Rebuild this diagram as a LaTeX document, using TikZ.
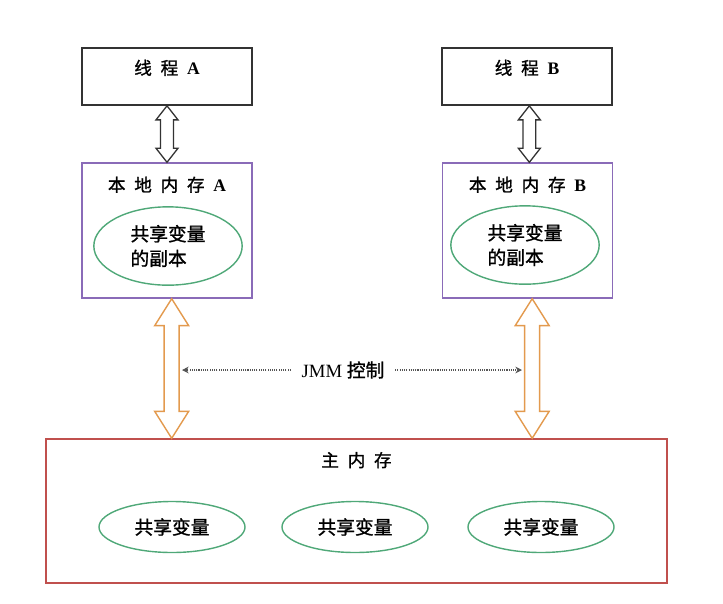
\documentclass[tikz,border=0pt]{standalone}
\usepackage{fontspec}
\setmainfont{Liberation Serif}
\newfontfamily\cjk[FakeBold=1.2]{Noto Sans CJK SC}
\usetikzlibrary{positioning,calc,shapes.geometric,arrows.meta}
\definecolor{threadline}{HTML}{333333}
\definecolor{localline}{HTML}{8A6BB8}
\definecolor{varline}{HTML}{4FA878}
\definecolor{mainline}{HTML}{C0504D}
\definecolor{busline}{HTML}{E39A4E}
\definecolor{jmmline}{HTML}{555555}
\tikzset{
  % --- boxes ---
  thread/.style={draw=threadline, line width=1.4pt, minimum width=5.1cm, minimum height=1.71cm,
                 text depth=16pt, font=\cjk\fontsize{15}{18}\selectfont},
  localmem/.style={draw=localline, line width=1.2pt, minimum width=5.1cm, minimum height=4.05cm},
  mainmem/.style={draw=mainline, line width=1.2pt, minimum width=18.63cm, minimum height=4.32cm},
  boxtitle/.style={font=\cjk\fontsize{15}{18}\selectfont, inner sep=3pt},
  % --- shared variables ---
  var/.style={ellipse, draw=varline, line width=1.2pt, inner sep=0pt, align=left,
              font=\cjk\fontsize{16}{21}\selectfont},
  copyvar/.style={var, minimum width=4.45cm, minimum height=2.35cm},
  mainvar/.style={var, minimum width=4.38cm, minimum height=1.53cm},
  % --- hollow block arrows ---
  threadbus/.style={draw=threadline, fill=white, line width=1.1pt, line join=miter},
  membus/.style={draw=busline, fill=white, line width=1.2pt, line join=miter},
  % --- JMM control ---
  jmmflow/.style={densely dotted, draw=jmmline, line width=0.9pt,
                  -{Stealth[length=2mm,width=2mm]}},
  jmmtext/.style={font=\fontsize{16}{18}\selectfont, inner sep=9pt},
}
\newcommand{\lat}[1]{{\normalfont\bfseries #1}}
\newcommand{\gap}{\hspace{0.5em}}
% style, from, to, head half width, head length, shaft half width
\newcommand{\fatarrow}[6]{%
  \draw[#1] let \p1=(#2), \p2=(#3) in
    (\x1,\y1) -- ({\x1+#4},{\y1-#5}) -- ({\x1+#6},{\y1-#5})
    -- ({\x1+#6},{\y2+#5}) -- ({\x1+#4},{\y2+#5}) -- (\x1,\y2)
    -- ({\x1-#4},{\y2+#5}) -- ({\x1-#6},{\y2+#5})
    -- ({\x1-#6},{\y1-#5}) -- ({\x1-#4},{\y1-#5}) -- cycle;}
\begin{document}
\begin{tikzpicture}[x=0.03cm, y=-0.03cm]
  \useasboundingbox (0,0) rectangle (723,603);

  % --- threads ---
  \node[thread] (thA) at (167,76.5) {线\gap 程\gap\lat{A}};
  \node[thread] (thB) at (527,76.5) {线\gap 程\gap\lat{B}};

  % --- local memory ---
  \node[localmem] (locA) at (167,230.5) {};
  \node[localmem] (locB) at (527.5,230.5) {};
  \node[boxtitle, below=0.32cm of locA.north] (locAtitle) {本\gap 地\gap 内\gap 存\gap\lat{A}};
  \node[boxtitle, below=0.32cm of locB.north] (locBtitle) {本\gap 地\gap 内\gap 存\gap\lat{B}};
  \node[copyvar] (copyA) at (168,246) {共享变量\\的副本};
  \node[copyvar] (copyB) at (525,245) {共享变量\\的副本};

  % --- main memory ---
  \node[mainmem] (mainmem) at (356.5,511) {};
  \node[boxtitle, below=0.3cm of mainmem.north] (maintitle) {主\gap 内\gap 存};
  \node[mainvar] (var1) at (172,527) {共享变量};
  \node[mainvar] (var2) at (355,527) {共享变量};
  \node[mainvar] (var3) at (541,527) {共享变量};

  % --- thread <-> local memory ---
  \fatarrow{threadbus}{thA.south}{locA.north}{9.4pt}{12pt}{5.5pt}
  \fatarrow{threadbus}{[xshift=2pt]thB.south}{locB.north}{9.4pt}{12pt}{5.5pt}

  % --- local memory <-> main memory ---
  \fatarrow{membus}{[xshift=4pt]locA.south}{mainmem.north}{14.5pt}{23pt}{6.4pt}
  \fatarrow{membus}{[xshift=4pt]locB.south}{mainmem.north}{14.5pt}{23pt}{6.4pt}

  % --- JMM control ---
  \node[jmmtext] (jmm) at (343,370) {JMM {\cjk 控制}};
  \coordinate (jmmL) at (182,370);
  \coordinate (jmmR) at (522,370);
  \draw[jmmflow] (jmm) -- (jmmL);
  \draw[jmmflow] (jmm) -- (jmmR);
\end{tikzpicture}
\end{document}
